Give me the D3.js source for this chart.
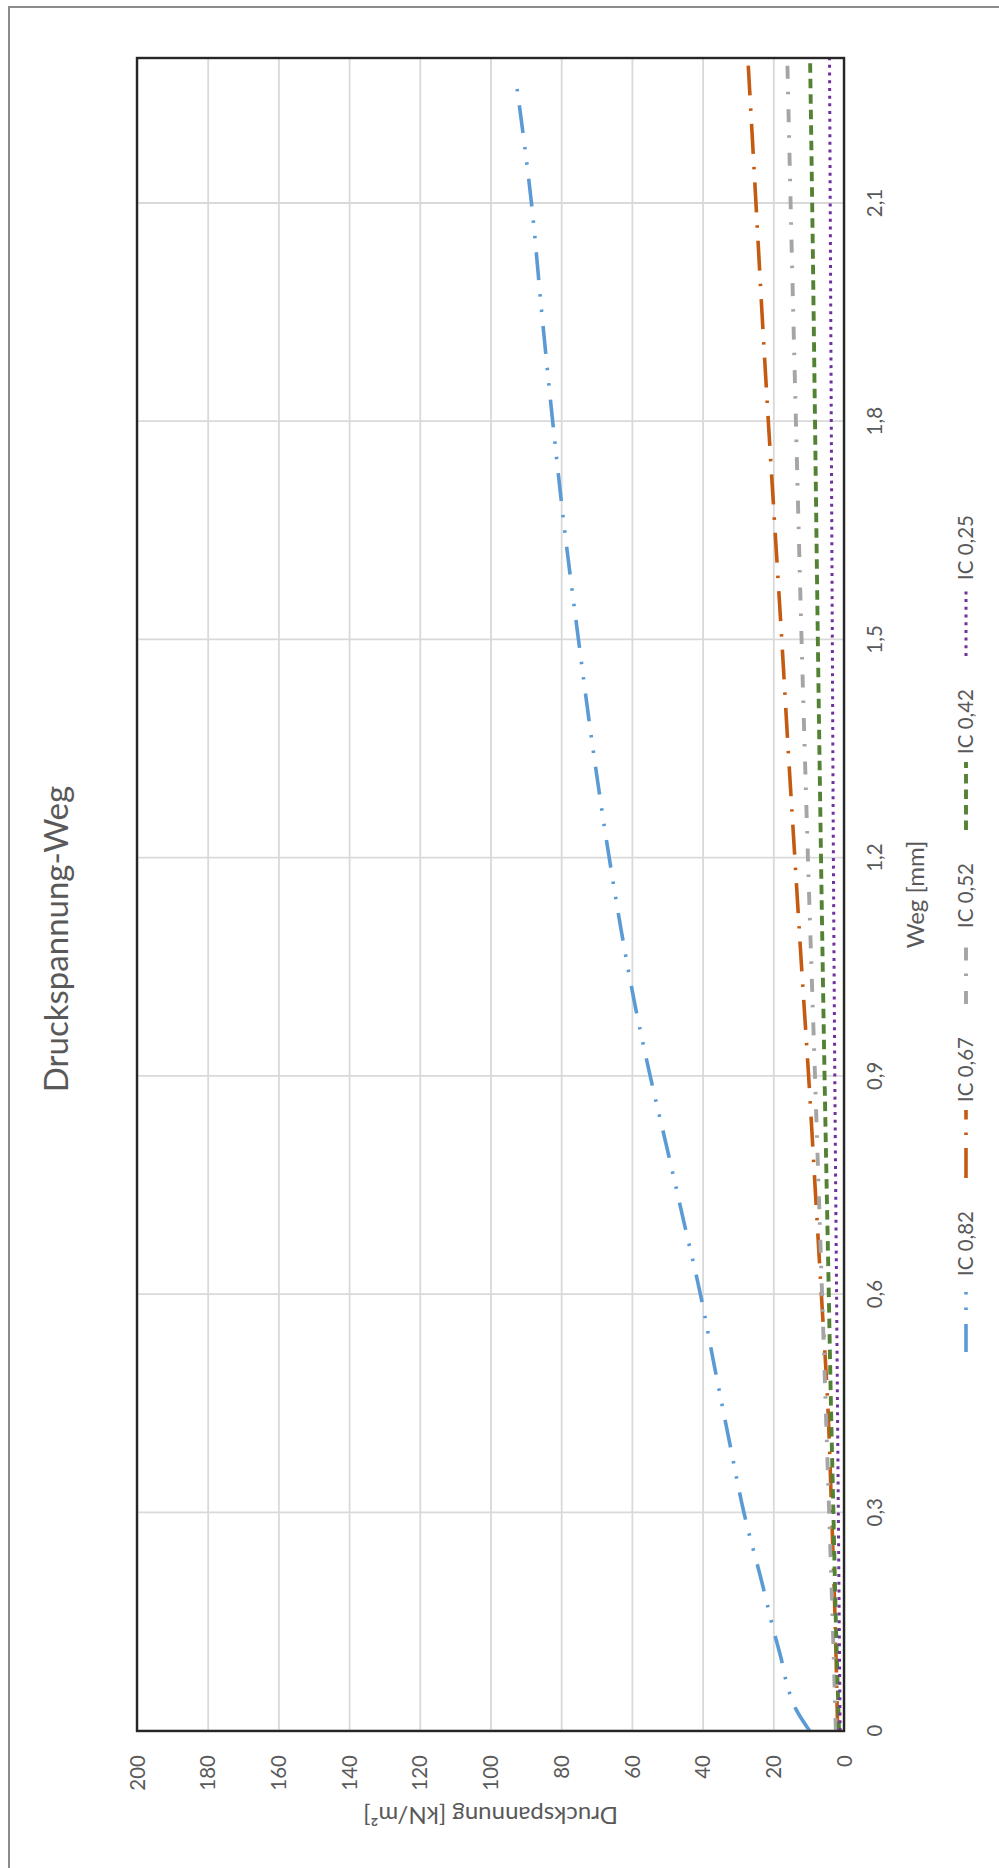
<!DOCTYPE html>
<html>
<head>
<meta charset="utf-8">
<script src="https://cdn.jsdelivr.net/npm/d3@7"></script>
<style>
  html, body { margin: 0; padding: 0; background: #ffffff; }
  svg { display: block; font-family: Lato, "Open Sans", "Liberation Sans", sans-serif; }
</style>
</head>
<body>
<svg id="chart"></svg>
<script>
// ---- data ----
const seriesNames = ["IC 0,82", "IC 0,67", "IC 0,52", "IC 0,42", "IC 0,25"];

const weg082   = [0, 0.03, 0.06, 0.1, 0.14, 0.2, 0.3, 0.4, 0.5, 0.6, 0.7, 0.8, 0.9, 1.0, 1.1, 1.2, 1.35, 1.5, 1.65, 1.8, 1.95, 2.1, 2.266];
const druck082 = [9.7, 13.6, 15.9, 17.8, 20.0, 23.0, 28.3, 32.5, 36.6, 40.6, 45.3, 50.0, 54.8, 59.2, 63.0, 66.4, 71.0, 75.1, 79.0, 82.4, 85.5, 88.4, 92.7];

const weg067   = [0, 0.15, 0.3, 0.45, 0.6, 0.75, 0.9, 1.05, 1.2, 1.35, 1.5, 1.65, 1.8, 1.95, 2.1, 2.3];
const druck067 = [1.8, 2.5, 3.5, 4.6, 6.4, 8.2, 10.0, 12.0, 13.9, 15.8, 17.6, 19.5, 21.4, 23.2, 24.9, 27.2];

const weg052   = [0, 0.15, 0.3, 0.45, 0.6, 0.9, 1.2, 1.5, 1.8, 2.1, 2.29];
const druck052 = [2.3, 3.2, 4.2, 5.2, 6.2, 8.2, 10.2, 12.0, 13.6, 15.1, 16.0];

const weg042   = [0, 0.15, 0.3, 0.45, 0.6, 0.9, 1.2, 1.5, 1.8, 2.1, 2.3];
const druck042 = [1.4, 2.3, 3.0, 3.7, 4.3, 5.5, 6.5, 7.4, 8.2, 9.0, 9.6];

const weg025   = [0, 0.3, 0.6, 0.9, 1.2, 1.5, 1.8, 2.1, 2.3];
const druck025 = [1.1, 1.6, 2.1, 2.6, 3.0, 3.3, 3.6, 3.9, 4.1];

const wegTicks        = [0, 0.3, 0.6, 0.9, 1.2, 1.5, 1.8, 2.1];
const wegTickLabels   = ["0", "0,3", "0,6", "0,9", "1,2", "1,5", "1,8", "2,1"];
const druckTicks      = [0, 20, 40, 60, 80, 100, 120, 140, 160, 180, 200];
const druckTickLabels = ["0", "20", "40", "60", "80", "100", "120", "140", "160", "180", "200"];

const chartTitle = "Druckspannung-Weg";
const wegTitle   = "Weg [mm]";
const druckTitle = "Druckspannung [kN/m²]";

// ---- styles ----
const seriesStyles = [
  { color: "#5B9BD5", width: 3.6, dash: "28,14,2.5,13,2.5,14" },
  { color: "#C55A11", width: 3.6, dash: "30,13,2.5,13" },
  { color: "#A5A5A5", width: 3.9, dash: "13,15,2.5,13" },
  { color: "#548235", width: 3.9, dash: "9.5,6" },
  { color: "#7030A0", width: 3, dash: "3,4.7" }
];
const textColor = "#595959";

const series = [
  d3.zip(weg082, druck082),
  d3.zip(weg067, druck067),
  d3.zip(weg052, druck052),
  d3.zip(weg042, druck042),
  d3.zip(weg025, druck025)
];

// ---- page & rotated frame ----
const W = 999, H = 1868;
const svg = d3.select("#chart").attr("width", W).attr("height", H);
svg.append("rect").attr("width", W).attr("height", H).attr("fill", "#ffffff");

// The chart is laid out landscape (H wide, W tall) and turned a quarter turn.
const g = svg.append("g").attr("transform", `translate(0,${H}) rotate(-90)`);

const plot = { left: 137, right: 1810, top: 137, bottom: 844 };

const x = d3.scaleLinear().domain([0, 2.3]).range([plot.left, plot.right]);
const y = d3.scaleLinear().domain([0, 200]).range([plot.bottom, plot.top]);

// chart area frame
g.append("rect")
  .attr("x", -20).attr("y", 9)
  .attr("width", 1861 + 20).attr("height", 1010)
  .attr("fill", "none").attr("stroke", "#8c8c8c").attr("stroke-width", 2);

// title
g.append("text")
  .attr("x", 929).attr("y", 56)
  .attr("text-anchor", "middle").attr("dy", "0.35em")
  .attr("font-size", 33).attr("fill", textColor)
  .text(chartTitle);

// ---- axes with gridlines ----
const xAxis = d3.axisBottom(x)
  .tickValues(wegTicks)
  .tickFormat((d, i) => wegTickLabels[i])
  .tickSize(-(plot.bottom - plot.top));

const xg = g.append("g").attr("transform", `translate(0,${plot.bottom})`).call(xAxis);
xg.select(".domain").remove();
xg.selectAll(".tick line").attr("stroke", "#d9d9d9").attr("stroke-width", 1.8);
xg.selectAll(".tick text")
  .attr("y", 31).attr("dy", "0.35em")
  .attr("font-size", 20.5).attr("font-family", "Lato, 'Open Sans', sans-serif")
  .attr("fill", textColor);

const yAxis = d3.axisLeft(y)
  .tickValues(druckTicks)
  .tickFormat((d, i) => druckTickLabels[i])
  .tickSize(-(plot.right - plot.left));

const yg = g.append("g").attr("transform", `translate(${plot.left},0)`).call(yAxis);
yg.select(".domain").remove();
yg.selectAll(".tick line").attr("stroke", "#d9d9d9").attr("stroke-width", 1.8);
yg.selectAll(".tick text")
  .attr("x", -24).attr("dy", "0.35em")
  .attr("font-size", 20.5).attr("font-family", "Lato, 'Open Sans', sans-serif")
  .attr("fill", textColor);

// axis titles
g.append("text")
  .attr("x", (plot.left + plot.right) / 2).attr("y", 916)
  .attr("text-anchor", "middle").attr("dy", "0.35em")
  .attr("font-size", 24).attr("fill", textColor)
  .text(wegTitle);

g.append("text")
  .attr("transform", `translate(53,${(plot.top + plot.bottom) / 2}) rotate(-90)`)
  .attr("text-anchor", "middle").attr("dy", "0.35em")
  .attr("font-size", 24).attr("fill", textColor)
  .text(druckTitle);

// ---- series ----
g.append("clipPath").attr("id", "plotClip")
  .append("rect")
  .attr("x", plot.left).attr("y", plot.top)
  .attr("width", plot.right - plot.left).attr("height", plot.bottom - plot.top);

const line = d3.line()
  .x(d => x(d[0]))
  .y(d => y(d[1]))
  .curve(d3.curveMonotoneX);

g.append("g").attr("clip-path", "url(#plotClip)")
  .selectAll("path")
  .data(series)
  .join("path")
  .attr("d", line)
  .attr("fill", "none")
  .attr("stroke", (d, i) => seriesStyles[i].color)
  .attr("stroke-width", (d, i) => seriesStyles[i].width)
  .attr("stroke-dasharray", (d, i) => seriesStyles[i].dash);

// plot frame
g.append("rect")
  .attr("x", plot.left).attr("y", plot.top)
  .attr("width", plot.right - plot.left).attr("height", plot.bottom - plot.top)
  .attr("fill", "none").attr("stroke", "#262626").attr("stroke-width", 2.4);

// ---- legend ----
const legendStart = 516, legendStep = 174, legendY = 966, sampleLen = 68;
const legend = g.append("g");
const items = legend.selectAll("g")
  .data(seriesNames)
  .join("g")
  .attr("transform", (d, i) => `translate(${legendStart + i * legendStep},${legendY})`);

items.append("line")
  .attr("x1", 0).attr("x2", sampleLen)
  .attr("stroke", (d, i) => seriesStyles[i].color)
  .attr("stroke-width", (d, i) => seriesStyles[i].width)
  .attr("stroke-dasharray", (d, i) => seriesStyles[i].dash);

items.append("text")
  .attr("x", 76).attr("dy", "0.35em")
  .attr("font-size", 20.5).attr("fill", textColor)
  .text(d => d);
</script>
</body>
</html>
